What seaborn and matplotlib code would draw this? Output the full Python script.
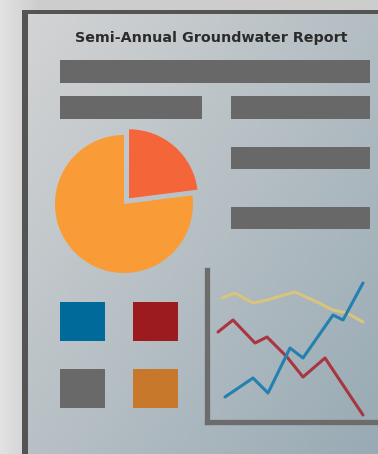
import numpy as np
import pandas as pd
import matplotlib
matplotlib.use("Agg")
import matplotlib.pyplot as plt
from matplotlib.patches import Rectangle
import seaborn as sns

# ---------------- data ----------------
title = "Semi-Annual Groundwater Report"

pie_labels = ["Exceedances", "Compliant"]
pie_values = [23, 77]
pie_colors = ["#F4663A", "#F99B36"]

yellow_x = [15, 28, 46, 60, 88, 110, 126, 140, 156]
yellow_y = [124, 129, 119, 122, 130, 120, 112, 109, 100]
red_x = [11, 26, 48, 60, 80, 96, 118, 156]
red_y = [90, 102, 79, 85, 65, 45, 64, 7]
blue_x = [18, 46, 61, 83, 96, 126, 136, 156]
blue_y = [25, 44, 29, 74, 64, 107, 102, 139]
series_colors = {"Well A": "#D8C47A", "Well B": "#A93540", "Well C": "#2380B0"}

swatch_colors = ["#006A9A", "#9B1B1E", "#696969", "#C8782A"]

# ---------------- figure ----------------
sns.set_theme(style="white")
plt.rcParams['font.family'] = ['DejaVu Sans']

W, H = 378, 454
fig = plt.figure(figsize=(W / 100, H / 100), dpi=100)

bg = fig.add_axes([0, 0, 1, 1])
bg.set_xlim(0, W)
bg.set_ylim(H, 0)
bg.axis("off")

# background gradient
xx, yy = np.meshgrid(np.arange(W), np.arange(H))
img = np.zeros((H, W, 3))
img[:] = (226 - (xx / 22.0) * 12)[..., None].clip(205, 230)
t = (0.55 * xx / W + 0.45 * yy / H)[..., None]
c0 = np.array([214, 214, 214])
c1 = np.array([152, 170, 180])
panel = c0 + (c1 - c0) * t
mask = (xx >= 26) & (yy >= 13)
img[mask] = panel[mask]
bg.imshow(img.astype(np.uint8), extent=[0, W, H, 0], zorder=0, aspect="auto")

# panel border
bg.add_patch(Rectangle((22, 10), 6, H, color="#545454", zorder=1, lw=0))
bg.add_patch(Rectangle((22, 10), W, 4, color="#545454", zorder=1, lw=0))

# title
bg.text(211, 38, title, ha="center", va="center", fontsize=10.3,
        fontweight="bold", color="#2b2b2b", zorder=3)

# placeholder text bars
for (x0, y0, w, h) in [(60, 60, 310, 23), (60, 96, 142, 23), (231, 96, 139, 23),
                       (231, 147, 139, 22), (231, 207, 139, 22)]:
    bg.add_patch(Rectangle((x0, y0), w, h, color="#686868", zorder=2, lw=0))

# swatches
for c, (x0, y0) in zip(swatch_colors, [(60, 302), (133, 302), (60, 369), (133, 369)]):
    bg.add_patch(Rectangle((x0, y0), 45, 39, color=c, zorder=2, lw=0))

# ---------------- pie ----------------
R = 69
cx, cy = 124, 204
half = 1.2 * R
pax = fig.add_axes([(cx - half) / W, (H - cy - half) / H, 2 * half / W, 2 * half / H])
pax.pie(pie_values, colors=pie_colors, startangle=90, counterclock=False,
        explode=[0.11, 0], radius=1, wedgeprops=dict(linewidth=0))
pax.set_xlim(-1.2, 1.2)
pax.set_ylim(-1.2, 1.2)
pax.set_aspect("equal")
pax.axis("off")

# ---------------- line chart ----------------
left, right, top, bottom = 207, 376, 270, 422
lax = fig.add_axes([left / W, (H - bottom) / H, (right - left) / W, (bottom - top) / H])
df = pd.concat([
    pd.DataFrame({"x": yellow_x, "y": yellow_y, "series": "Well A"}),
    pd.DataFrame({"x": red_x, "y": red_y, "series": "Well B"}),
    pd.DataFrame({"x": blue_x, "y": blue_y, "series": "Well C"}),
])
sns.lineplot(data=df, x="x", y="y", hue="series", palette=series_colors,
             sort=False, linewidth=2.2, legend=False, ax=lax)
lax.set_xlim(0, right - left)
lax.set_ylim(0, bottom - top)
lax.patch.set_alpha(0)
for s in ["top", "right"]:
    lax.spines[s].set_visible(False)
for s in ["left", "bottom"]:
    lax.spines[s].set_linewidth(3.8)
    lax.spines[s].set_color("#6c6c6c")
lax.set_xticks([])
lax.set_yticks([])
lax.set_xlabel("")
lax.set_ylabel("")

fig.savefig("out.png", dpi=100)
